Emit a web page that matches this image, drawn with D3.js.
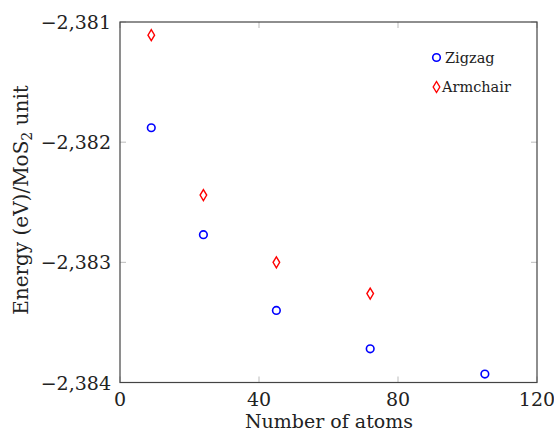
<!DOCTYPE html>
<html>
<head>
<meta charset="utf-8">
<script src="https://cdn.jsdelivr.net/npm/d3@7"></script>
<style>
body { margin: 0; background: #fff; }
text { font-family: "DejaVu Serif", "Liberation Serif", serif; fill: #222; }
</style>
</head>
<body>
<script>
// data
var zigzagX = [9, 24, 45, 72, 105];
var zigzagY = [-2.38188, -2.38277, -2.38340, -2.38372, -2.38393];
var armchairX = [9, 24, 45, 72];
var armchairY = [-2.38111, -2.38244, -2.38300, -2.38326];
var xTicks = [0, 40, 80, 120];
var yTicks = [-2.384, -2.383, -2.382, -2.381];
var yTickLabels = ["\u22122,384", "\u22122,383", "\u22122,382", "\u22122,381"];

var width = 554, height = 435;
var pLeft = 120, pRight = 537, pTop = 22, pBottom = 382.5;

var svg = d3.select("body").append("svg")
            .attr("width", width)
            .attr("height", height);

var x = d3.scaleLinear().domain([0, 120]).range([pLeft, pRight]);
var y = d3.scaleLinear().domain([-2.384, -2.381]).range([pBottom, pTop]);

// ticks on all four sides, pointing in
var tk = 6;
xTicks.forEach(function(t){
    svg.append("line").attr("x1", x(t)).attr("x2", x(t)).attr("y1", pBottom).attr("y2", pBottom - tk)
       .attr("stroke", "#aaa").attr("stroke-width", 0.8);
    svg.append("line").attr("x1", x(t)).attr("x2", x(t)).attr("y1", pTop).attr("y2", pTop + tk)
       .attr("stroke", "#aaa").attr("stroke-width", 0.8);
    svg.append("text").attr("x", x(t)).attr("y", pBottom + 23)
       .attr("text-anchor", "middle").attr("font-size", 19).text(t);
});
yTicks.forEach(function(t, i){
    svg.append("line").attr("x1", pLeft).attr("x2", pLeft + tk).attr("y1", y(t)).attr("y2", y(t))
       .attr("stroke", "#aaa").attr("stroke-width", 0.8);
    svg.append("line").attr("x1", pRight).attr("x2", pRight - tk).attr("y1", y(t)).attr("y2", y(t))
       .attr("stroke", "#aaa").attr("stroke-width", 0.8);
    svg.append("text").attr("x", pLeft - 9).attr("y", y(t) + 7)
       .attr("text-anchor", "end").attr("font-size", 19).text(yTickLabels[i]);
});

svg.append("rect").attr("x", pLeft).attr("y", pTop)
   .attr("width", pRight - pLeft).attr("height", pBottom - pTop)
   .attr("fill", "none").attr("stroke", "#444").attr("stroke-width", 1.2);

// zigzag circles
svg.selectAll("circle.zz")
   .data(zigzagX.map(function(d, i){ return [d, zigzagY[i]]; }))
   .enter().append("circle")
   .attr("cx", function(d){ return x(d[0]); })
   .attr("cy", function(d){ return y(d[1]); })
   .attr("r", 3.8)
   .attr("fill", "none").attr("stroke", "#0000ff").attr("stroke-width", 1.6);

var diamond = function(cx, cy){
    return "M" + cx + "," + (cy - 5.5) + "L" + (cx + 3.3) + "," + cy + "L" + cx + "," + (cy + 5.5) + "L" + (cx - 3.3) + "," + cy + "Z";
};

svg.selectAll("path.ac")
   .data(armchairX.map(function(d, i){ return [d, armchairY[i]]; }))
   .enter().append("path")
   .attr("d", function(d){ return diamond(x(d[0]), y(d[1])); })
   .attr("fill", "none").attr("stroke", "#ff0000").attr("stroke-width", 1.4);

// legend
svg.append("circle").attr("cx", 436.5).attr("cy", 57.5).attr("r", 3.8)
   .attr("fill", "none").attr("stroke", "#0000ff").attr("stroke-width", 1.6);
svg.append("text").attr("x", 445).attr("y", 63).attr("font-size", 14.5).text("Zigzag");
svg.append("path").attr("d", diamond(436.5, 87))
   .attr("fill", "none").attr("stroke", "#ff0000").attr("stroke-width", 1.4);
svg.append("text").attr("x", 442).attr("y", 92).attr("font-size", 14.5).text("Armchair");

// axis labels
svg.append("text").attr("x", 329).attr("y", 428)
   .attr("text-anchor", "middle").attr("font-size", 19).text("Number of atoms");

var yl = svg.append("text").attr("transform", "translate(28,200) rotate(-90)")
   .attr("text-anchor", "middle").attr("font-size", 20);
yl.append("tspan").text("Energy (eV)/MoS");
yl.append("tspan").attr("font-size", 14).attr("dy", 4).text("2");
yl.append("tspan").attr("dy", -4).text(" unit");
</script>
</body>
</html>
